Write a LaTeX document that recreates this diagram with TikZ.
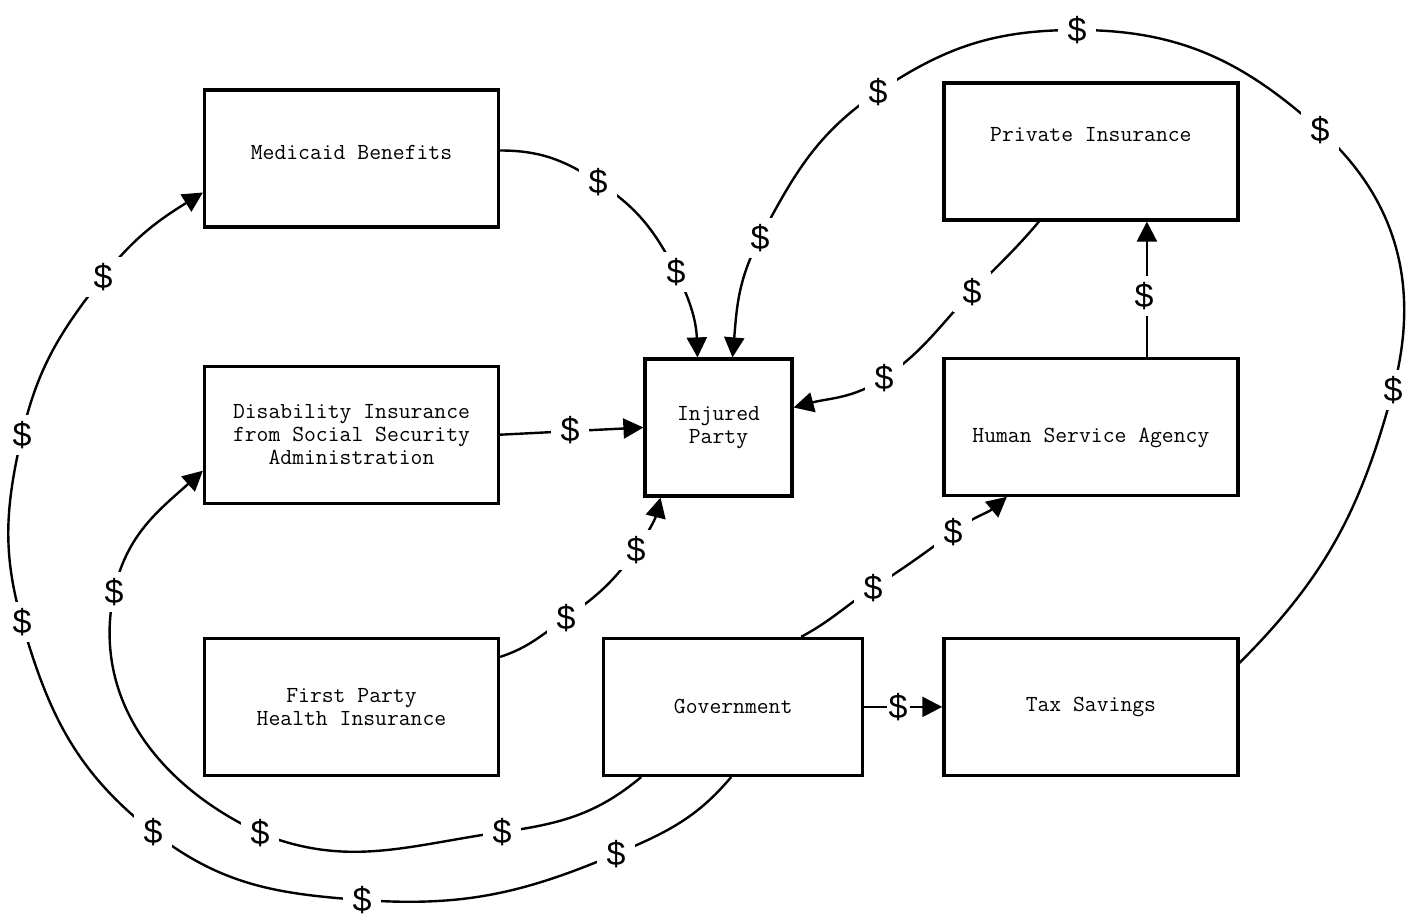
\documentclass[tikz,border=0pt]{standalone}
\usepackage{fontspec}
\newfontfamily\dollarfont{Liberation Sans}
\usepackage{tikz}
\usetikzlibrary{arrows.meta,positioning,backgrounds}

\tikzset{
  box/.style={draw, line width=1.6pt, rectangle, align=center, inner sep=0pt,
    font=\ttfamily\fontsize{11.5}{11.5}\selectfont,
    minimum width=147pt, minimum height=68.5pt},
  dollar/.style={fill=white, font=\dollarfont\fontsize{17}{17}\selectfont,
    inner xsep=5pt, inner ysep=3pt},
  flow/.style={line width=1.2pt, -{Triangle[length=10pt,width=10pt]}},
}

\begin{document}
\begin{tikzpicture}[x=0.5pt, y=0.5pt]
  \useasboundingbox (0,0) rectangle (1419,-920);

  % Define nodes
  \node[box, text depth=6.5pt] (med) at (351.5,-158.5) {Medicaid Benefits};
  \node[box, below=68pt of med] (dis) {Disability Insurance\\from Social Security\\Administration};
  \node[box, below=66pt of dis] (fph) {First Party\\Health Insurance};
  \node[box, minimum width=129.5pt, right=51pt of fph] (gov) {Government};
  \node[box, right=39pt of gov] (tax) {Tax Savings};
  \node[box, text height=18pt, above=70pt of tax] (hsa) {Human Service Agency};
  \node[box, text depth=17pt, above=67.5pt of hsa] (pri) {Private Insurance};
  \node[box, minimum width=73.5pt] (inj) at (718.5,-427.5) {Injured\\Party};

  % Dollar labels
  \node[dollar] (mi1) at (598,-182) {\$};
  \node[dollar] (mi2) at (676,-272) {\$};
  \node[dollar] (di1) at (570,-430) {\$};
  \node[dollar] (fi1) at (566,-618) {\$};
  \node[dollar] (fi2) at (636,-550) {\$};
  \node[dollar] (pi1) at (972,-292) {\$};
  \node[dollar] (pi2) at (884,-378) {\$};
  \node[dollar] (hp1) at (1144,-296) {\$};
  \node[dollar] (gh1) at (873,-588) {\$};
  \node[dollar] (gh2) at (953,-532) {\$};
  \node[dollar, inner xsep=1pt, right=11pt of gov] (gt1) {\$};
  \node[dollar] (ti1) at (1393,-390) {\$};
  \node[dollar] (ti2) at (1320,-130) {\$};
  \node[dollar] (ti3) at (1077,-30) {\$};
  \node[dollar] (ti4) at (878,-92) {\$};
  \node[dollar] (ti5) at (760,-238) {\$};
  \node[dollar] (gd1) at (502,-832) {\$};
  \node[dollar] (gd2) at (260,-833) {\$};
  \node[dollar] (gd3) at (114,-592) {\$};
  \node[dollar] (gm1) at (616,-854) {\$};
  \node[dollar] (gm2) at (362,-900) {\$};
  \node[dollar] (gm3) at (153,-832) {\$};
  \node[dollar] (gm4) at (22,-622) {\$};
  \node[dollar] (gm5) at (22,-435) {\$};
  \node[dollar] (gm6) at (103,-277) {\$};

  % Connect the nodes (under the labels)
  \begin{scope}[on background layer]
  \draw[flow] ([yshift=4pt]med.east) to[out=0,in=147] (mi1.center)
    to[out=-33,in=117] (mi2.center) to[out=-63,in=92] ([xshift=-10.5pt]inj.north);
  \draw[flow] (dis.east) -- (inj.west);
  \draw[flow] ([yshift=25pt]fph.east) to[out=18,in=-145] (fi1.center)
    to[out=35,in=-125] (fi2.center) to[out=55,in=-104] ([xshift=-29pt]inj.south);
  \draw[flow] ([xshift=-26pt]pri.south) to[out=-130,in=46] (pi1.center)
    to[out=-134,in=34] (pi2.center) to[out=-146,in=15] ([yshift=10pt]inj.east);
  \draw[flow] ([xshift=28pt]hsa.north) -- ([xshift=28pt]pri.south);
  \draw[flow] ([xshift=34pt]gov.north) to[out=28,in=-147] (gh1.center)
    to[out=33,in=-143] (gh2.center) to[out=37,in=-140] ([xshift=-42pt]hsa.south);
  \draw[flow] (gov.east) -- (tax.west);

  % Outer loops
  \draw[flow] ([yshift=22pt]tax.east) to[out=45,in=-105] (ti1.center)
    to[out=75,in=-42] (ti2.center) to[out=138,in=0] (ti3.center)
    to[out=180,in=34] (ti4.center) to[out=-146,in=62] (ti5.center)
    to[out=-118,in=85] ([xshift=7pt]inj.north);
  \draw[flow] ([xshift=-46pt]gov.south) to[out=-140,in=8] (gd1.center)
    to[out=-172,in=-22] (gd2.center) to[out=155,in=-102] (gd3.center)
    to[out=78,in=-138] ([yshift=-18pt]dis.west);
  \draw[flow] ([xshift=-1pt]gov.south) to[out=-130,in=23] (gm1.center)
    to[out=-157,in=-4] (gm2.center) to[out=176,in=-38] (gm3.center)
    to[out=142,in=-74] (gm4.center) to[out=106,in=-103] (gm5.center)
    to[out=77,in=-128] (gm6.center) to[out=52,in=-148] ([yshift=-17pt]med.west);
  \end{scope}
\end{tikzpicture}
\end{document}
